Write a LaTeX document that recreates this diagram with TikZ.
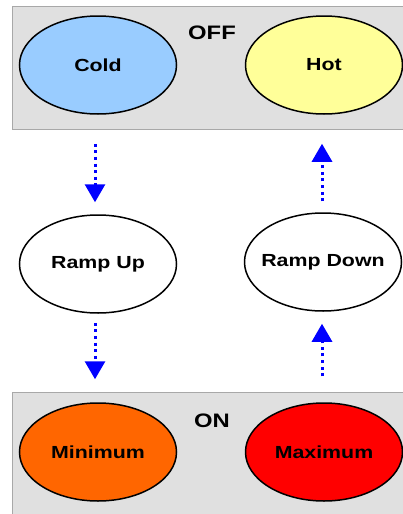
\documentclass[tikz,border=0pt]{standalone}
\usepackage{fontspec}
\setmainfont{Liberation Sans}
\usetikzlibrary{arrows.meta,shapes.geometric}

\definecolor{coldblue}{HTML}{99CCFF}
\definecolor{hotyellow}{HTML}{FFFF99}
\definecolor{minorange}{HTML}{FF6600}
\definecolor{maxred}{HTML}{FF0000}
\definecolor{panelgray}{HTML}{E0E0E0}
\definecolor{panelline}{HTML}{A8A8A8}

% labels are set a bit wider than the font, and take no room in the ellipse
\newcommand{\lbl}[1]{\makebox[0pt]{\scalebox{1.22}[1]{#1}}}

\tikzset{
    panel/.style={draw=panelline, line width=1.2pt, fill=panelgray,
        minimum width=396pt, minimum height=123pt, inner sep=0pt},
    state/.style={ellipse, draw, line width=1.5pt, minimum width=157pt,
        minimum height=98pt, inner sep=0pt,
        font=\fontsize{17.5}{19}\selectfont\bfseries},
    mode/.style={font=\fontsize{19.5}{21}\selectfont\bfseries},
    flow/.style={draw=blue, line width=3pt, dash pattern=on 3pt off 3.6pt,
        -{Triangle[length=18pt,width=20pt]}}
}

\begin{document}
\begin{tikzpicture}[x=1pt, y=-1pt]
        \useasboundingbox (0,0) rectangle (403,514);

        \node[panel, anchor=north west] (off) at (12,6) {};
        \node[panel, anchor=north west] (on) at (12,392) {};
        \node[mode] (offlabel) at (212,33) {\lbl{OFF}};
        \node[mode] (onlabel) at (212,421) {\lbl{ON}};

        \node[state, fill=coldblue] (cold) at (98,65) {\lbl{Cold}};
        \node[state, fill=hotyellow] (hot) at (324,65) {\lbl{Hot}};
        \node[state, fill=white] (rampup) at (98,264) {\lbl{Ramp Up}};
        \node[state, fill=white] (rampdown) at (323,262) {\lbl{Ramp Down}};
        \node[state, fill=minorange] (minimum) at (98,452) {\lbl{Minimum}};
        \node[state, fill=maxred] (maximum) at (324,452) {\lbl{Maximum}};

        \draw[flow, shorten <=29pt, shorten >=12pt]
            ([xshift=-3pt]cold.south) -- ([xshift=-3pt]rampup.north);
        \draw[flow, shorten <=9pt, shorten >=23pt]
            ([xshift=-3pt]rampup.south) -- ([xshift=-3pt]minimum.north);
        \draw[flow, shorten <=26pt, shorten >=12pt]
            ([xshift=-2pt]maximum.north) -- ([xshift=-1pt]rampdown.south);
        \draw[flow, shorten <=11pt, shorten >=29pt]
            ([xshift=-1pt]rampdown.north) -- ([xshift=-2pt]hot.south);
    \end{tikzpicture}
\end{document}
